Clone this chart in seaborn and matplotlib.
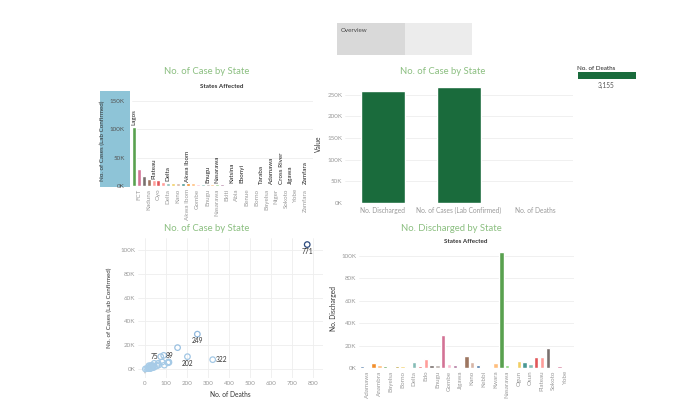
import numpy as np
import pandas as pd
import matplotlib
matplotlib.use("Agg")
import matplotlib.pyplot as plt
import seaborn as sns
from matplotlib.patches import Rectangle
from matplotlib.ticker import FuncFormatter

# ---- data (states in alphabetical order) ----
states = ["Abia", "Adamawa", "Akwa Ibom", "Anambra", "Bauchi", "Bayelsa", "Benue", "Borno",
          "Cross River", "Delta", "Ebonyi", "Edo", "Ekiti", "Enugu", "FCT", "Gombe", "Imo",
          "Jigawa", "Kaduna", "Kano", "Katsina", "Kebbi", "Kogi", "Kwara", "Lagos", "Nasarawa",
          "Niger", "Ogun", "Ondo", "Osun", "Oyo", "Plateau", "Rivers", "Sokoto", "Taraba",
          "Yobe", "Zamfara"]
cases = [2200, 1200, 4800, 2800, 1900, 1300, 2000, 1600,
         900, 6000, 2200, 7900, 2500, 3000, 29300, 3500, 2700,
         600, 11500, 5600, 2500, 450, 100, 4800, 104500, 2800,
         1200, 5900, 5300, 3300, 10400, 10400, 18000, 800, 1500,
         500, 400]
discharged = [2100, 1100, 4700, 2700, 1800, 1300, 1900, 1500,
              800, 5600, 2000, 7800, 2400, 2800, 29000, 3200, 2500,
              600, 11000, 5200, 2300, 300, 100, 4500, 103000, 2500,
              1100, 5800, 5000, 3200, 10000, 10000, 18000, 800, 1400,
              300, 300]
deaths = [34, 38, 44, 19, 24, 28, 25, 44,
          25, 112, 32, 322, 28, 29, 249, 66, 57,
          18, 89, 114, 37, 16, 2, 63, 771, 39,
          20, 82, 109, 92, 202, 75, 155, 28, 33,
          9, 25]
labelled_deaths = [771, 249, 322, 202, 75, 89]

measures = ["No. Discharged", "No. of Cases (Lab Confirmed)", "No. of Deaths"]
totals = [sum(discharged), sum(cases), sum(deaths)]

df = pd.DataFrame({"state": states, "cases": cases, "discharged": discharged, "deaths": deaths})

tab20 = ["#4E79A7", "#A0CBE8", "#F28E2B", "#FFBE7D", "#59A14F", "#8CD17D", "#B6992D", "#F1CE63",
         "#499894", "#86BCB6", "#E15759", "#FF9D9A", "#79706E", "#BAB0AC", "#D37295", "#FABFD2",
         "#B07AA1", "#D4A6C8", "#9D7660", "#D7B5A6"]
state_colors = {s: tab20[i % 20] for i, s in enumerate(states)}

# ---- style ----
sns.set_style("white")
plt.rcParams["font.family"] = ["Lato", "DejaVu Sans"]
TITLE_C = "#8bbf80"
TICK_C = "#9a9a9a"
LAB_C = "#333333"
GRID_C = "#eeeeee"
GREEN = "#1a6b3c"

W, H = 680, 417
fig = plt.figure(figsize=(6.8, 4.17), dpi=100)


def px(l, t, r, b):
    return [l / W, 1 - b / H, (r - l) / W, (b - t) / H]


def ktick(v, pos):
    return f"{int(round(v / 1000))}K"


def clean(ax):
    sns.despine(ax=ax, left=True, bottom=True)
    ax.tick_params(axis="both", colors=TICK_C, labelsize=4.5, length=0, pad=2)


def ftext(x, y, s, **kw):
    fig.text(x / W, 1 - y / H, s, **kw)


def frect(l, t, r, b, color, z=1):
    fig.patches.append(Rectangle((l / W, 1 - b / H), (r - l) / W, (b - t) / H,
                                 transform=fig.transFigure, facecolor=color,
                                 edgecolor="none", zorder=z))


# ---- overview tabs ----
frect(337, 23, 405, 55, "#d9d9d9")
frect(405, 23, 472, 55, "#ececec")
ftext(341, 31, "Overview", fontsize=4.5, color="#444444", va="center")

# ---- top-left: cases by state (sorted) ----
frect(100, 91, 130, 187, "#8ec4d7", z=-1)
ax1 = fig.add_axes(px(131.5, 95, 313, 186))
d1 = df.sort_values("cases", ascending=False).reset_index(drop=True)
sns.barplot(data=d1, x="state", y="cases", hue="state", palette=state_colors, legend=False,
            width=0.82, saturation=1, ax=ax1)
ax1.set_ylim(0, 160000)
ax1.set_yticks([0, 50000, 100000, 150000])
ax1.yaxis.set_major_formatter(FuncFormatter(ktick))
ax1.yaxis.grid(True, color=GRID_C, lw=0.6)
ax1.set_axisbelow(True)
clean(ax1)
ax1.tick_params(axis="y", length=2, colors="#555555", pad=3)
ax1.set_xticks(range(1, len(d1), 2))
ax1.set_xticklabels(d1["state"][1::2], rotation=90, fontsize=4.5)
ax1.set_xlabel("")
ax1.set_ylabel("No. of Cases (Lab Confirmed)", fontsize=4.5, color=LAB_C, labelpad=3)
top_labels = ["Lagos", "Plateau", "Delta", "Akwa Ibom", "Enugu", "Nasarawa", "Katsina", "Ebonyi",
              "Taraba", "Adamawa", "Cross River", "Jigawa", "Zamfara"]
for i, row in d1.iterrows():
    if row["state"] in top_labels:
        ax1.text(i, row["cases"] + 2500, row["state"], rotation=90, ha="center", va="bottom",
                 fontsize=4.5, color="#222222")
ftext(207, 72, "No. of Case by State", fontsize=6.8, color=TITLE_C, ha="center", va="center")
ftext(222, 87, "States Affected", fontsize=4.5, color=LAB_C, ha="center", va="center",
      fontweight="bold")

# ---- top-right: totals ----
ax2 = fig.add_axes(px(345, 85, 573, 203))
d2 = pd.DataFrame({"measure": measures, "value": totals})
sns.barplot(data=d2, x="measure", y="value", color=GREEN, saturation=1, width=0.59, ax=ax2)
ax2.patches[2].set_facecolor("#5f9a72")
ax2.set_ylim(0, 272000)
ax2.set_yticks(range(0, 250001, 50000))
ax2.yaxis.set_major_formatter(FuncFormatter(ktick))
ax2.yaxis.grid(True, color=GRID_C, lw=0.6)
ax2.set_axisbelow(True)
clean(ax2)
ax2.tick_params(axis="x", labelsize=4.8, pad=3)
ax2.set_xlabel("")
ax2.set_ylabel("Value", fontsize=4.8, color=LAB_C, labelpad=4)
ftext(443, 72, "No. of Case by State", fontsize=6.8, color=TITLE_C, ha="center", va="center")

# legend-like deaths card
ftext(577, 68, "No. of Deaths", fontsize=4.5, color="#222222", va="center")
frect(578, 72, 636, 79, GREEN)
ftext(606, 85, f"{totals[2]:,}", fontsize=4.8, color="#555555", ha="center", va="center")

# ---- bottom-left: scatter deaths vs cases ----
ax3 = fig.add_axes(px(138, 238, 323, 378))
sns.regplot(data=df, x="deaths", y="cases", scatter=False, ci=None, truncate=False,
            line_kws={"color": "#808080", "lw": 0.8}, ax=ax3)
cmap = sns.blend_palette(["#a9cde8", "#7fa9d4", "#2c4a7e"], as_cmap=True)
norm = plt.Normalize(0, 104500)
ax3.scatter(df["deaths"], df["cases"], s=16, facecolors="none",
            edgecolors=[cmap(norm(v)) for v in df["cases"]], linewidths=0.9, zorder=3)
ax3.set_xlim(-33, 846)
ax3.set_ylim(-7500, 110000)
ax3.set_xticks(range(0, 801, 100))
ax3.set_yticks(range(0, 100001, 20000))
ax3.yaxis.set_major_formatter(FuncFormatter(ktick))
ax3.grid(True, color=GRID_C, lw=0.6)
ax3.set_axisbelow(True)
clean(ax3)
ax3.set_xlabel("No. of Deaths", fontsize=4.8, color=LAB_C, labelpad=4)
ax3.set_ylabel("No. of Cases (Lab Confirmed)", fontsize=4.5, color=LAB_C, labelpad=6)
offsets = {771: (0, -5500, "center"), 249: (0, -5500, "center"), 322: (12, 0, "left"),
           202: (0, -5500, "center"), 75: (-10, 0, "right"), 89: (8, 0, "left")}
for _, row in df.iterrows():
    if row["deaths"] in labelled_deaths:
        dx, dy, ha = offsets[row["deaths"]]
        ax3.text(row["deaths"] + dx, row["cases"] + dy, str(row["deaths"]), fontsize=4.8,
                 color="#333333", ha=ha, va="center")
ftext(207, 228, "No. of Case by State", fontsize=6.8, color=TITLE_C, ha="center", va="center")

# ---- bottom-right: discharged by state ----
ax4 = fig.add_axes(px(359, 249, 574, 368))
sns.barplot(data=df, x="state", y="discharged", hue="state", palette=state_colors, legend=False,
            width=0.75, saturation=1, ax=ax4)
ax4.set_ylim(0, 106000)
ax4.set_yticks(range(0, 100001, 20000))
ax4.yaxis.set_major_formatter(FuncFormatter(ktick))
ax4.yaxis.grid(True, color=GRID_C, lw=0.6)
ax4.set_axisbelow(True)
clean(ax4)
ax4.set_xticks(range(1, len(states), 2))
ax4.set_xticklabels(states[1::2], rotation=90, fontsize=4.5)
ax4.set_xlabel("")
ax4.set_ylabel("No. Discharged", fontsize=4.8, color=LAB_C, labelpad=3)
ftext(451, 228, "No. Discharged by State", fontsize=6.8, color=TITLE_C, ha="center", va="center")
ftext(466, 242, "States Affected", fontsize=4.5, color=LAB_C, ha="center", va="center",
      fontweight="bold")

fig.savefig("out.png", dpi=100, facecolor="white")
